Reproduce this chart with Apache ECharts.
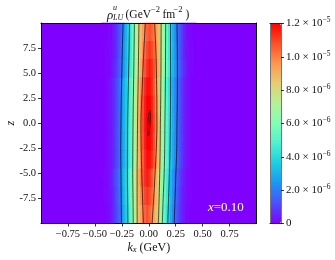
<!DOCTYPE html>
<html><head><meta charset="utf-8">
<style>html,body{margin:0;padding:0;background:#fff}#c{width:335px;height:260px;filter:blur(0.35px)}</style>
<script src="https://cdn.jsdelivr.net/npm/echarts@6/dist/echarts.min.js"></script>
</head><body><div id="c"></div>
<script>
// values in units of 1e-7 GeV^-2 fm^-2
var zBands = [9.09,7.27,5.45,3.64,1.82,0,-1.82,-3.64,-5.45,-7.27,-9.09];
var kxFirst = -0.43; // first tabulated column; columns step by 0.02
var rhoRows = [
[0,0,0,1,1,3,5,9,13,17,23,30,37,44,54,62,72,81,88,94,101,105, 108,105,101,94,88,81,72,62,54,44,37,30,23,17,13,9,5,3,1,1,0,0],
[0,0,1,1,2,3,5,9,13,18,24,31,38,45,54,63,72,81,89,97,104,109, 112,109,104,97,89,81,72,63,54,45,38,31,24,18,13,9,5,3,2,1,1,0],
[0,0,1,1,2,4,6,10,14,19,25,32,38,46,55,63,72,81,91,100,107,113, 116,113,107,100,91,81,72,63,55,46,38,32,25,19,14,10,6,4,2,1,1,0],
[0,0,1,2,3,5,8,12,17,22,29,35,42,50,58,67,77,87,97,106,114,118, 118,114,106,97,87,77,67,58,50,42,35,29,22,17,12,8,5,3,2,1,0,0],
[0,0,1,2,3,5,8,12,17,23,29,36,43,51,59,68,78,88,99,108,116,120, 120,116,108,99,88,78,68,59,51,43,36,29,23,17,12,8,5,3,2,1,0,0],
[0,0,1,2,3,5,8,12,17,23,30,36,43,51,59,69,78,89,100,109,117,122, 122,117,109,100,89,78,69,59,51,43,36,30,23,17,12,8,5,3,2,1,0,0],
[0,0,1,2,3,5,8,12,17,23,29,36,43,51,59,68,78,88,99,108,116,120, 120,116,108,99,88,78,68,59,51,43,36,29,23,17,12,8,5,3,2,1,0,0],
[0,0,1,2,3,5,8,12,17,22,29,35,42,50,58,67,77,87,97,106,114,118, 118,114,106,97,87,77,67,58,50,42,35,29,22,17,12,8,5,3,2,1,0,0],
[0,1,1,2,4,6,10,14,19,25,32,38,46,55,63,72,81,91,100,107,113,116, 113,107,100,91,81,72,63,55,46,38,32,25,19,14,10,6,4,2,1,1,0,0],
[0,1,1,2,3,5,9,13,18,24,31,38,45,54,63,72,81,89,97,104,109,112, 109,104,97,89,81,72,63,54,45,38,31,24,18,13,9,5,3,2,1,1,0,0],
[0,0,1,1,3,5,8,12,16,22,29,36,43,52,61,71,80,87,93,100,104,108, 104,100,93,87,80,71,61,52,43,36,29,22,16,12,8,5,3,1,1,0,0,0]
];
var contourZ = [10,7.5,5,2.5,0,-2.5,-5,-7.5,-10];
var left2  = [-.238,-.245,-.25,-.255,-.258,-.26,-.258,-.256,-.254];
var right2 = [.262,.265,.266,.265,.262,.26,.252,.244,.236];
var left4  = [-.178,-.182,-.187,-.192,-.196,-.197,-.198,-.196,-.194];
var right4 = [.202,.202,.203,.202,.2,.197,.192,.184,.176];
var left6  = [-.133,-.136,-.139,-.143,-.146,-.148,-.149,-.146,-.144];
var right6 = [.157,.156,.155,.153,.15,.148,.143,.134,.126];
var left8  = [-.091,-.094,-.097,-.101,-.104,-.106,-.108,-.108,-.107];
var right8 = [.115,.114,.113,.111,.108,.106,.102,.096,.089];
var left10 = [-.031,-.045,-.055,-.065,-.072,-.07,-.065,-.058,-.049];
var right10= [.055,.065,.071,.075,.076,.07,.059,.046,.031];
var peak12 = [[.012,1.3],[.014,.7],[.01,-.1],[.004,-.9],[-.006,-1.25],[-.011,-.7],[-.008,.2],[.001,.9],[.012,1.3]];
var kxTicks = [-0.75,-0.5,-0.25,0,0.25,0.5,0.75];
var zTicks = [-7.5,-5,-2.5,0,2.5,5,7.5];
var barTicks = [0,20,40,60,80,100,120];
var barLabels = {0:'0',20:'2.0 × 10',40:'4.0 × 10',60:'6.0 × 10',80:'8.0 × 10',100:'1.0 × 10',120:'1.2 × 10'};
var barExp = {20:'−6',40:'−6',60:'−6',80:'−6',100:'−5',120:'−5'};
var rainbow = ['#8000ff','#4d4ffc','#1a96f2','#1acee3','#4df2ce','#80ffb4','#b3f296','#e6ce74','#ff964f','#ff4f28','#ff0000'];

var SERIF = '"Liberation Serif"';
var kxBands = [];
for (var i = 0; i < 100; i++) kxBands.push((-0.99 + i * 0.02).toFixed(2));
var firstIdx = kxBands.indexOf(kxFirst.toFixed(2));
var cells = [];
rhoRows.forEach(function (row, r) {
  row.forEach(function (v, c) { cells.push([firstIdx + c, r, v]); });
});
function line(xs) {
  return {type:'line', xAxisIndex:1, yAxisIndex:1, symbol:'none', silent:true, smooth:0.3, z:4,
    lineStyle:{color:'#000', width:0.9, opacity:0.72},
    data: xs.map(function (x, i) { return [x, contourZ[i]]; })};
}
var series = [{type:'heatmap', xAxisIndex:0, yAxisIndex:0, data:cells, progressive:0, silent:true, z:2}];
[left2,right2,left4,right4,left6,right6,left8,right8,left10,right10].forEach(function (a) { series.push(line(a)); });
series.push({type:'line', xAxisIndex:1, yAxisIndex:1, symbol:'none', silent:true, smooth:0.4, z:4,
  lineStyle:{color:'#000', width:0.9, opacity:0.8}, data:peak12});
var txt = {fontFamily:SERIF, color:'#111', fontSize:10.5};
var frame = {show:true, onZero:false, lineStyle:{color:'#000', width:1}};
var chart = echarts.init(document.getElementById('c'), null, {renderer:'canvas'});
chart.setOption({
  animation:false, backgroundColor:'#fff',
  grid:[
    {left:41, width:215.5, top:23, height:200.5, backgroundColor:'#8000ff', show:true, borderWidth:0, outerBoundsMode:'none', containLabel:false},
    {left:270, width:11, top:23.5, height:200, show:false, outerBoundsMode:'none', containLabel:false}
  ],
  visualMap:{type:'continuous', min:0, max:120, seriesIndex:0, left:270, top:23.5, itemWidth:11, itemHeight:200,
    inRange:{color:rainbow}, text:null, calculable:false, hoverLink:false, showLabel:false, padding:0, realtime:false,
    textStyle:{fontSize:0}},
  xAxis:[
    {type:'category', gridIndex:0, data:kxBands, position:'top', axisLine:frame, axisTick:{show:false}, axisLabel:{show:false}, splitLine:{show:false}, z:6},
    {type:'value', gridIndex:0, min:-1, max:1, position:'bottom', axisLine:frame, splitLine:{show:false}, z:6,
      axisTick:{length:3, lineStyle:{color:'#000', width:0.8}, customValues:kxTicks},
      axisLabel:Object.assign({}, txt, {margin:5, customValues:kxTicks, formatter:function (v) { return v.toFixed(2).replace('-', '−'); }}),
      name:'{i|k}{s|x}{n| (GeV)}', nameLocation:'middle', nameGap:17, nameMoveOverlap:false,
      nameTextStyle:{rich:{i:{fontFamily:SERIF, fontStyle:'italic', fontSize:12, color:'#111'}, s:{fontFamily:SERIF, fontStyle:'italic', fontSize:8.5, color:'#111', padding:[5,0,0,0]}, n:{fontFamily:SERIF, fontSize:12, color:'#111'}}}},
    {type:'value', gridIndex:1, min:0, max:1, position:'top', axisLine:{show:true, onZero:false, lineStyle:{color:'#222', width:1}}, axisTick:{show:false}, axisLabel:{show:false}, splitLine:{show:false}, z:6},
    {type:'value', gridIndex:1, min:0, max:1, position:'bottom', axisLine:{show:true, onZero:false, lineStyle:{color:'#222', width:1}}, axisTick:{show:false}, axisLabel:{show:false}, splitLine:{show:false}, z:6}
  ],
  yAxis:[
    {type:'category', gridIndex:0, data:zBands, inverse:true, position:'right', axisLine:frame, axisTick:{show:false}, axisLabel:{show:false}, splitLine:{show:false}, z:6},
    {type:'value', gridIndex:0, min:-10, max:10, position:'left', axisLine:frame, splitLine:{show:false}, z:6,
      axisTick:{length:3, lineStyle:{color:'#000', width:0.8}, customValues:zTicks},
      axisLabel:Object.assign({}, txt, {margin:5, customValues:zTicks, formatter:function (v) { return v.toFixed(1); }}),
      name:'z', nameLocation:'middle', nameGap:24, nameRotate:90, nameMoveOverlap:false,
      nameTextStyle:{fontFamily:SERIF, fontStyle:'italic', fontSize:12, color:'#111'}},
    {type:'value', gridIndex:1, min:0, max:120, position:'right', z:6,
      axisLine:{show:true, onZero:false, lineStyle:{color:'#777', width:1}}, splitLine:{show:false},
      axisTick:{length:3, inside:false, lineStyle:{color:'#000', width:0.8}, customValues:barTicks},
      axisLabel:{margin:5, customValues:barTicks, align:'left', formatter:function (v) {
        return barExp[v] ? '{b|' + barLabels[v] + '}{e|' + barExp[v] + '}' : '{b|' + barLabels[v] + '}';
      }, rich:{b:{fontFamily:SERIF, fontSize:11, color:'#111'}, e:{fontFamily:SERIF, fontSize:7.5, color:'#111', padding:[0,0,6,0]}}}},
    {type:'value', gridIndex:1, min:0, max:120, position:'left', z:6,
      axisLine:{show:true, onZero:false, lineStyle:{color:'#777', width:1}}, axisTick:{show:false}, axisLabel:{show:false}, splitLine:{show:false}}
  ],
  series:series,
  graphic:[
    {type:'text', left:107, top:9.5, z:10, style:{text:'ρ', font:'italic 13px '+SERIF, fill:'#111'}},
    {type:'text', left:113, top:3.5, z:10, style:{text:'u', font:'italic 8px '+SERIF, fill:'#111'}},
    {type:'text', left:113, top:13.5, z:10, style:{text:'LU', font:'italic 8px '+SERIF, fill:'#111'}},
    {type:'text', left:125.5, top:9, z:10, style:{text:'(GeV', font:'11.5px '+SERIF, fill:'#111'}},
    {type:'text', left:151, top:5, z:10, style:{text:'−2', font:'8.5px '+SERIF, fill:'#111'}},
    {type:'text', left:162.5, top:9, z:10, style:{text:'fm', font:'11.5px '+SERIF, fill:'#111'}},
    {type:'text', left:173.5, top:5, z:10, style:{text:'−2', font:'8.5px '+SERIF, fill:'#111'}},
    {type:'text', left:185.5, top:9, z:10, style:{text:')', font:'11.5px '+SERIF, fill:'#111'}},
    {type:'text', left:208, top:201.5, z:10, style:{text:'{i|x}{n|=0.10}', rich:{i:{font:'italic 13px '+SERIF, fill:'#fff'}, n:{font:'13px '+SERIF, fill:'#fff'}}, fill:'#fff'}}
  ]
});
</script></body></html>
